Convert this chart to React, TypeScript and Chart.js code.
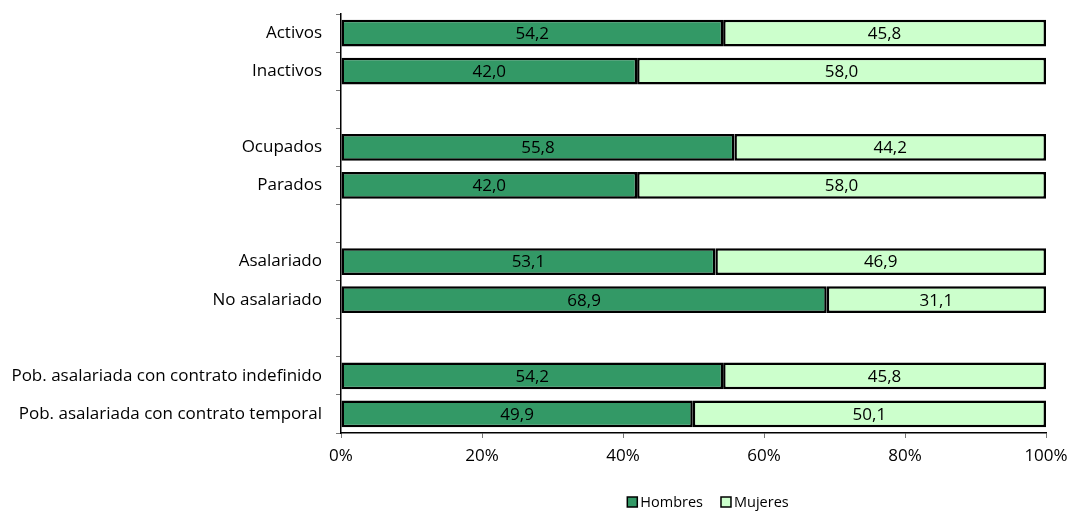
import React, { useEffect, useRef } from "react";
import { Chart, registerables } from "chart.js";

Chart.register(...registerables);

const categories = [
  "Activos",
  "Inactivos",
  "",
  "Ocupados",
  "Parados",
  "",
  "Asalariado",
  "No asalariado",
  "",
  "Pob. asalariada con contrato indefinido",
  "Pob. asalariada con contrato temporal",
];
const hombres = [54.2, 42.0, null, 55.8, 42.0, null, 53.1, 68.9, null, 54.2, 49.9];
const mujeres = [45.8, 58.0, null, 44.2, 58.0, null, 46.9, 31.1, null, 45.8, 50.1];
const xTicks = [0, 20, 40, 60, 80, 100];
const seriesNames = ["Hombres", "Mujeres"];
const seriesColors = ["#339966", "#CCFFCC"];

const FONT = "Open Sans";

const valueLabels = {
  id: "valueLabels",
  afterDatasetsDraw(chart: any) {
    const ctx = chart.ctx;
    ctx.save();
    ctx.font = `17px "${FONT}"`;
    ctx.fillStyle = "#000";
    ctx.textAlign = "center";
    ctx.textBaseline = "middle";
    chart.data.datasets.forEach((ds: any, i: number) => {
      const meta = chart.getDatasetMeta(i);
      meta.data.forEach((bar: any, j: number) => {
        const v = ds.data[j];
        if (v === null || v === undefined) return;
        const p = bar.getProps(["x", "y", "base"], true);
        const cx = (p.x + p.base) / 2;
        ctx.fillText(v.toFixed(1).replace(".", ","), cx, p.y + 1);
      });
    });
    ctx.restore();
  },
};

const customLegend = {
  id: "customLegend",
  afterDraw(chart: any) {
    const ctx = chart.ctx;
    ctx.save();
    ctx.font = `14.5px "${FONT}"`;
    ctx.textBaseline = "middle";
    ctx.textAlign = "left";
    const box = 10;
    const gapBoxText = 3;
    const gapItems = 18;
    const widths = seriesNames.map((n) => box + gapBoxText + ctx.measureText(n).width);
    const total = widths.reduce((a, b) => a + b, 0) + gapItems * (widths.length - 1);
    const cx = 708;
    const cy = 502;
    let x = cx - total / 2;
    seriesNames.forEach((n, i) => {
      ctx.fillStyle = seriesColors[i];
      ctx.fillRect(x, cy - box / 2, box, box);
      ctx.strokeStyle = "#000";
      ctx.lineWidth = 1.5;
      ctx.strokeRect(x, cy - box / 2, box, box);
      ctx.fillStyle = "#000";
      ctx.fillText(n, x + box + gapBoxText, cy + 1);
      x += widths[i] + gapItems;
    });
    ctx.restore();
  },
};

export default function App() {
  const ref = useRef<HTMLCanvasElement>(null);
  useEffect(() => {
    const chart = new Chart(ref.current!, {
      type: "bar",
      data: {
        labels: categories,
        datasets: seriesNames.map((name, i) => ({
          label: name,
          data: i === 0 ? hombres : mujeres,
          backgroundColor: seriesColors[i],
          borderColor: "#000000",
          borderWidth: 2.5,
          borderSkipped: false,
          categoryPercentage: 1,
          barPercentage: 0.7,
        })),
      },
      options: {
        indexAxis: "y",
        animation: false,
        responsive: true,
        maintainAspectRatio: false,
        layout: { padding: { top: 14, right: 23, left: 0, bottom: 0 } },
        scales: {
          x: {
            stacked: true,
            min: 0,
            max: 100,
            afterBuildTicks: (axis: any) => {
              axis.ticks = xTicks.map((v) => ({ value: v }));
            },
            afterFit: (axis: any) => {
              axis.height = 78;
              axis.paddingLeft = 0;
              axis.paddingRight = 0;
            },
            border: { display: true, color: "#000", width: 1.5 },
            grid: {
              drawOnChartArea: false,
              drawTicks: true,
              tickLength: 5,
              color: "#777",
            },
            ticks: {
              color: "#000",
              font: { family: FONT, size: 17 },
              padding: 8,
              callback: (v: any) => v + "%",
              maxRotation: 0,
            },
          },
          y: {
            stacked: true,
            afterFit: (axis: any) => {
              axis.width = 341;
              axis.paddingTop = 0;
              axis.paddingBottom = 0;
            },
            border: { display: true, color: "#000", width: 1.5 },
            grid: {
              offset: true,
              drawOnChartArea: false,
              drawTicks: true,
              tickLength: 5,
              color: "#777",
            },
            ticks: {
              color: "#000",
              font: { family: FONT, size: 17 },
              padding: 14,
              autoSkip: false,
            },
          },
        },
        plugins: {
          legend: { display: false },
          tooltip: { enabled: false },
        },
      },
      plugins: [valueLabels, customLegend],
    });
    return () => chart.destroy();
  }, []);
  return (
    <div style={{ position: "fixed", left: 0, top: 0, width: 1069, height: 511 }}>
      <canvas ref={ref} />
    </div>
  );
}
